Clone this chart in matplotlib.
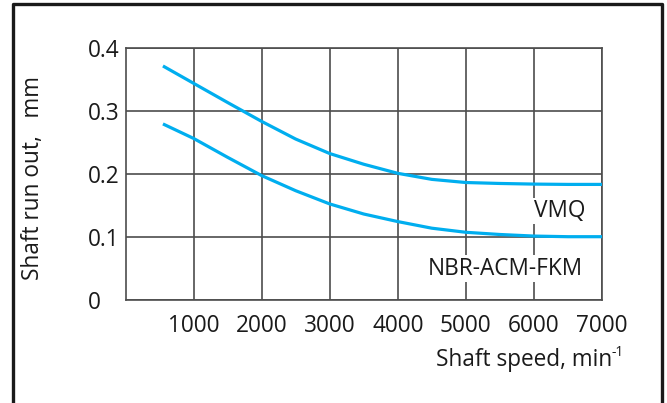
import matplotlib.pyplot as plt
from matplotlib.lines import Line2D

plt.rcParams['font.family'] = ['Open Sans', 'DejaVu Sans']

# data
speed = [550, 1000, 1500, 2000, 2500, 3000, 3500, 4000, 4500, 5000, 5500, 6000, 6500, 7000]
vmq = [0.371, 0.3435, 0.313, 0.283, 0.255, 0.232, 0.215, 0.2006, 0.191, 0.186, 0.1845, 0.1835, 0.183, 0.183]
nbr = [0.279, 0.256, 0.226, 0.197, 0.173, 0.152, 0.136, 0.124, 0.1135, 0.107, 0.1035, 0.101, 0.100, 0.100]
x_ticks = [1000, 2000, 3000, 4000, 5000, 6000, 7000]
y_ticks = [0, 0.1, 0.2, 0.3, 0.4]
y_tick_labels = ["0", "0.1", "0.2", "0.3", "0.4"]

W, H = 667, 403
fig = plt.figure(figsize=(W / 100, H / 100), dpi=100)
ax = fig.add_axes([125.5 / W, 1 - 299.7 / H, (602 - 125.5) / W, (299.7 - 47.7) / H])

grid_col = "#4d4d4d"
line_col = "#00aeef"
text_col = "#1a1a1a"
fs = 16.3

ax.plot(speed, vmq, color=line_col, lw=2.3, solid_capstyle="butt",
        solid_joinstyle="round", zorder=3)
ax.plot(speed, nbr, color=line_col, lw=2.3, solid_capstyle="butt",
        solid_joinstyle="round", zorder=3)

ax.set_xlim(0, 7000)
ax.set_ylim(0, 0.4)
ax.set_xticks(x_ticks)
ax.set_xticklabels([str(t) for t in x_ticks])
ax.set_yticks(y_ticks)
ax.set_yticklabels(y_tick_labels)
ax.grid(True, color=grid_col, lw=1.2)
ax.set_axisbelow(True)
for s in ax.spines.values():
    s.set_color(grid_col)
    s.set_linewidth(1.2)

ax.tick_params(axis="both", length=0, labelsize=fs, colors=text_col)
ax.tick_params(axis="x", pad=10)
ax.tick_params(axis="y", pad=27)
for lab in ax.get_yticklabels():
    lab.set_horizontalalignment("left")

box = dict(facecolor="white", edgecolor="none", pad=1)
ax.text(6750, 0.141, "VMQ", ha="right", va="center", fontsize=fs,
        color=text_col, bbox=box, zorder=4)
ax.text(6720, 0.049, "NBR-ACM-FKM", ha="right", va="center", fontsize=fs,
        color=text_col, bbox=box, zorder=4)

fig.text(33 / W, 1 - 178 / H, "Shaft run out,   mm", rotation=90,
         ha="center", va="center", fontsize=fs, color=text_col)
fig.text(612 / W, 1 - 360 / H, "Shaft speed, min",
         ha="right", va="center", fontsize=fs, color=text_col)
fig.text(612 / W, 1 - 353 / H, "-1",
         ha="left", va="center", fontsize=10, color=text_col)

# outer frame (left, top, right)
fx0, fx1, fy = 13 / W, 662 / W, 1 - 4 / H
fig.add_artist(Line2D([fx0, fx0, fx1, fx1], [0, fy, fy, 0],
                      transform=fig.transFigure, color=text_col, lw=2.4))

fig.savefig("out.png", dpi=100)
